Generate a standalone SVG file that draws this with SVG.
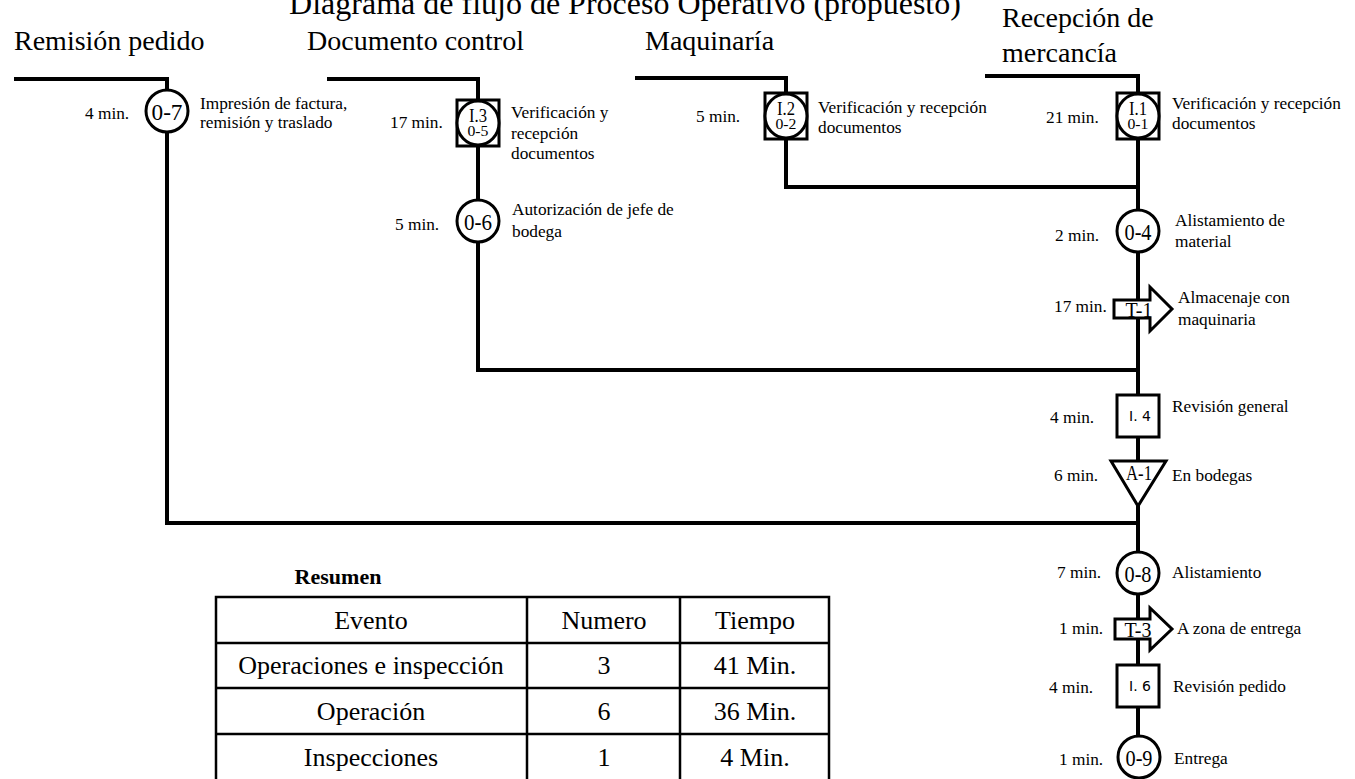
<svg xmlns="http://www.w3.org/2000/svg" width="1355" height="779" viewBox="0 0 1355 779">
<style>
text{font-family:"Liberation Serif","Times New Roman",serif;fill:#000}
.hd{font-size:28px}
.ti{font-size:32px}
.sm{font-size:17.3px}
.nl{font-size:24px;text-anchor:middle}
.tl{font-size:21px;text-anchor:middle}
.q1{font-size:18px;text-anchor:middle}
.q2{font-size:14px;text-anchor:middle}
.sq{font-family:"DejaVu Sans",sans-serif;font-size:14px;text-anchor:middle}
.tb{font-size:26px;text-anchor:middle}
.shape{fill:#fff;stroke:#000;stroke-width:3}
.conn{fill:none;stroke:#000;stroke-width:4}
.grid{fill:none;stroke:#000;stroke-width:2.5}
</style>
<rect width="1355" height="779" fill="#fff"/>
<text class="ti" x="625" y="14" text-anchor="middle">Diagrama de flujo de Proceso Operativo (propuesto)</text>
<text class="hd" x="14" y="50">Remisión pedido</text>
<text class="hd" x="307" y="50">Documento control</text>
<text class="hd" x="645" y="50">Maquinaría</text>
<text class="hd" x="1002" y="27">Recepción de</text>
<text class="hd" x="1002" y="62">mercancía</text>
<g id="connectors">
<path class="conn" d="M14,79 H167 V523 H1138"/>
<path class="conn" d="M327,79 H478 V370 H1138"/>
<path class="conn" d="M635,78 H786 V187 H1138"/>
<path class="conn" d="M985,76 H1138 V736"/>
</g>
<g id="n07">
<circle class="shape" cx="167" cy="111" r="21"/>
<text class="nl" x="167" y="119.5" textLength="31" lengthAdjust="spacingAndGlyphs">0-7</text>
<text class="sm" x="85" y="119">4 min.</text>
<text class="sm" x="200" y="109">Impresión de factura,</text>
<text class="sm" x="200" y="128">remisión y traslado</text>
</g>
<g id="nI3">
<rect class="shape" x="457" y="100" width="42" height="46"/>
<ellipse class="shape" cx="478" cy="123" rx="21" ry="22"/>
<text class="q1" x="478" y="122" textLength="18" lengthAdjust="spacingAndGlyphs">I.3</text>
<text class="q2" x="478" y="136" textLength="21" lengthAdjust="spacingAndGlyphs">0-5</text>
<text class="sm" x="390" y="128">17 min.</text>
<text class="sm" x="511" y="118">Verificación y</text>
<text class="sm" x="511" y="139">recepción</text>
<text class="sm" x="511" y="159">documentos</text>
</g>
<g id="n06">
<circle class="shape" cx="478" cy="221" r="21"/>
<text class="nl" x="478" y="229.5" textLength="28" lengthAdjust="spacingAndGlyphs">0-6</text>
<text class="sm" x="395" y="230">5 min.</text>
<text class="sm" x="512" y="215">Autorización de jefe de</text>
<text class="sm" x="512" y="237">bodega</text>
</g>
<g id="nI2">
<rect class="shape" x="765" y="93" width="42" height="46"/>
<ellipse class="shape" cx="786" cy="116" rx="21" ry="22"/>
<text class="q1" x="786" y="115" textLength="18" lengthAdjust="spacingAndGlyphs">I.2</text>
<text class="q2" x="786" y="129" textLength="21" lengthAdjust="spacingAndGlyphs">0-2</text>
<text class="sm" x="696" y="122">5 min.</text>
<text class="sm" x="818" y="113">Verificación y recepción</text>
<text class="sm" x="818" y="133">documentos</text>
</g>
<g id="nI1">
<rect class="shape" x="1117" y="93" width="42" height="46"/>
<ellipse class="shape" cx="1138" cy="116" rx="21" ry="22"/>
<text class="q1" x="1138" y="115" textLength="18" lengthAdjust="spacingAndGlyphs">I.1</text>
<text class="q2" x="1138" y="129" textLength="21" lengthAdjust="spacingAndGlyphs">0-1</text>
<text class="sm" x="1046" y="123">21 min.</text>
<text class="sm" x="1172" y="109">Verificación y recepción</text>
<text class="sm" x="1172" y="129">documentos</text>
</g>
<g id="n04">
<circle class="shape" cx="1138" cy="231" r="21"/>
<text class="nl" x="1138" y="239.5" textLength="27" lengthAdjust="spacingAndGlyphs">0-4</text>
<text class="sm" x="1055" y="241">2 min.</text>
<text class="sm" x="1175" y="226">Alistamiento de</text>
<text class="sm" x="1175" y="247">material</text>
</g>
<g id="nT1">
<polygon class="shape" points="1114,300 1150,300 1150,287 1172,309 1150,331 1150,318 1114,318"/>
<text class="tl" x="1139" y="317" textLength="27" lengthAdjust="spacingAndGlyphs">T-1</text>
<text class="sm" x="1054" y="312">17 min.</text>
<text class="sm" x="1178" y="303">Almacenaje con</text>
<text class="sm" x="1178" y="325">maquinaria</text>
</g>
<g id="nI4">
<rect class="shape" x="1117" y="395" width="42" height="42"/>
<text class="sq" x="1140" y="421">I. 4</text>
<text class="sm" x="1050" y="423">4 min.</text>
<text class="sm" x="1172" y="412">Revisión general</text>
</g>
<g id="nA1">
<polygon class="shape" points="1111,461 1166,461 1138,506"/>
<text class="tl" x="1139" y="480" textLength="26" lengthAdjust="spacingAndGlyphs">A-1</text>
<text class="sm" x="1054" y="481">6 min.</text>
<text class="sm" x="1172" y="481">En bodegas</text>
</g>
<g id="n08">
<circle class="shape" cx="1138" cy="573" r="21"/>
<text class="nl" x="1138" y="581.5" textLength="27" lengthAdjust="spacingAndGlyphs">0-8</text>
<text class="sm" x="1057" y="578">7 min.</text>
<text class="sm" x="1172" y="578">Alistamiento</text>
</g>
<g id="nT3">
<polygon class="shape" points="1115,619 1150,619 1150,608 1172,629 1150,650 1150,639 1115,639"/>
<text class="tl" x="1138" y="637" textLength="27" lengthAdjust="spacingAndGlyphs">T-3</text>
<text class="sm" x="1059" y="634">1 min.</text>
<text class="sm" x="1177" y="634">A zona de entrega</text>
</g>
<g id="nI6">
<rect class="shape" x="1117" y="665" width="42" height="42"/>
<text class="sq" x="1140" y="691">I. 6</text>
<text class="sm" x="1049" y="693">4 min.</text>
<text class="sm" x="1173" y="692">Revisión pedido</text>
</g>
<g id="n09">
<circle class="shape" cx="1139" cy="757" r="21"/>
<text class="nl" x="1139" y="765.5" textLength="27" lengthAdjust="spacingAndGlyphs">0-9</text>
<text class="sm" x="1059" y="765">1 min.</text>
<text class="sm" x="1174" y="764">Entrega</text>
</g>
<g id="resumen">
<text x="338" y="584" font-size="22" font-weight="bold" text-anchor="middle">Resumen</text>
<rect class="grid" x="216" y="597" width="613" height="190"/>
<path class="grid" d="M216,643 H829 M216,688 H829 M216,734 H829 M527,597 V787 M680,597 V787"/>
<text class="tb" x="371" y="629">Evento</text>
<text class="tb" x="604" y="629">Numero</text>
<text class="tb" x="755" y="629">Tiempo</text>
<text class="tb" x="371" y="674">Operaciones e inspección</text>
<text class="tb" x="604" y="674">3</text>
<text class="tb" x="755" y="674">41 Min.</text>
<text class="tb" x="371" y="720">Operación</text>
<text class="tb" x="604" y="720">6</text>
<text class="tb" x="755" y="720">36 Min.</text>
<text class="tb" x="371" y="766">Inspecciones</text>
<text class="tb" x="604" y="766">1</text>
<text class="tb" x="755" y="766">4 Min.</text>
</g>
</svg>
